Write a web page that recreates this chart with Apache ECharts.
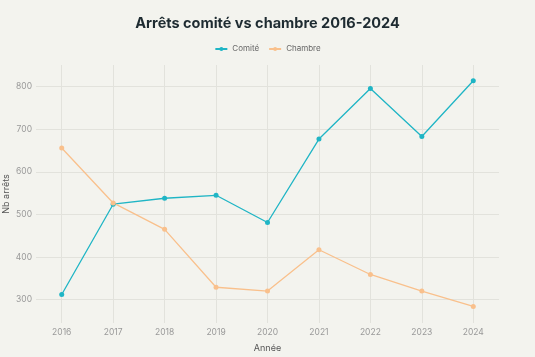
<!DOCTYPE html>
<html>
<head>
<meta charset="utf-8">
<script src="https://cdn.jsdelivr.net/npm/echarts@6/dist/echarts.min.js"></script>
<style>
html,body{margin:0;padding:0;background:#f3f3ee;}
#c{width:535px;height:357px;}
</style>
</head>
<body>
<div id="c"></div>
<script>
var years = [2016, 2017, 2018, 2019, 2020, 2021, 2022, 2023, 2024];
var comite = [312, 524, 538, 545, 481, 677, 796, 683, 814];
var chambre = [656, 527, 465, 329, 320, 417, 359, 320, 284];
var yTicks = [300, 400, 500, 600, 700, 800];

function pairs(vals){ return years.map(function(y,i){ return [y, vals[i]]; }); }

var chart = echarts.init(document.getElementById('c'));
var font = 'Inter, "Liberation Sans", sans-serif';
chart.setOption({
  backgroundColor: '#f3f3ee',
  animation: false,
  textStyle: { fontFamily: font },
  title: {
    text: 'Arrêts comité vs chambre 2016-2024',
    left: 'center', top: 11,
    textStyle: { fontSize: 14.5, fontWeight: 'bold', color: '#1e2b31', fontFamily: font }
  },
  legend: {
    top: 40, left: 'center',
    itemWidth: 12, itemHeight: 5, itemGap: 9,
    textStyle: { fontSize: 8, color: '#666', fontFamily: font },
    data: ['Comité', 'Chambre']
  },
  grid: { left: 36, right: 36, top: 65, bottom: 34, containLabel: false, outerBoundsMode: 'none' },
  xAxis: {
    type: 'value', min: 2015.5, max: 2024.5,
    name: 'Année', nameLocation: 'middle', nameGap: 21, nameMoveOverlap: false,
    nameTextStyle: { fontSize: 9, color: '#555', fontFamily: font },
    axisLine: { show: false },
    axisTick: { show: false, customValues: years },
    axisLabel: { customValues: years, fontSize: 8.5, color: '#999', margin: 5, fontFamily: font,
      formatter: function(v){ return String(v); } },
    splitLine: { show: true, lineStyle: { color: '#e2e2dc', width: 1 } }
  },
  yAxis: {
    type: 'value', min: 245, max: 851,
    name: 'Nb arrêts', nameLocation: 'middle', nameGap: 25, nameRotate: 90, nameMoveOverlap: false,
    nameTextStyle: { fontSize: 9, color: '#555', fontFamily: font },
    axisLine: { show: false },
    axisTick: { show: false, customValues: yTicks },
    axisLabel: { customValues: yTicks, fontSize: 8.5, color: '#999', margin: 4, fontFamily: font },
    splitLine: { show: true, lineStyle: { color: '#e2e2dc', width: 1 } }
  },
  series: [
    {
      name: 'Comité', type: 'line', data: pairs(comite),
      symbol: 'circle', symbolSize: 5,
      lineStyle: { color: '#1fb5c5', width: 1.3 },
      itemStyle: { color: '#1fb5c5' }
    },
    {
      name: 'Chambre', type: 'line', data: pairs(chambre),
      symbol: 'circle', symbolSize: 5,
      lineStyle: { color: '#f9c08c', width: 1.3 },
      itemStyle: { color: '#f9c08c' }
    }
  ]
});
</script>
</body>
</html>
